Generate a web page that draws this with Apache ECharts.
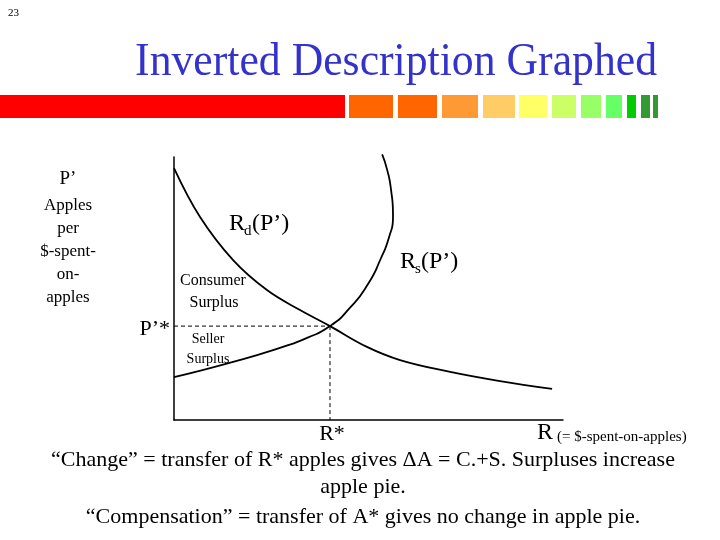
<!DOCTYPE html>
<html>
<head>
<meta charset="utf-8">
<script src="https://cdn.jsdelivr.net/npm/echarts@6/dist/echarts.min.js"></script>
<style>
  html, body { margin: 0; padding: 0; background: #fff; }
  #chart { width: 720px; height: 540px; }
</style>
</head>
<body>
<div id="chart"></div>
<script>
// demand curve Rd(P') : R values and P' values
var demandR = [0, 6.7, 15.2, 23.9, 32.4, 40.1, 49.6, 58.1, 71.0, 83.8, 97.2];
var demandP = [95.8, 77.2, 60.8, 49.4, 41.8, 35.7, 27.8, 22.8, 18.3, 14.8, 11.8];

// supply curve Rs(P') (bends backwards at the top)
var supplyR = [0, 15.2, 28.0, 34.2, 40.1, 45.2, 49.8, 53.2, 55.3, 56.3, 55.8, 54.8, 53.5];
var supplyP = [16.3, 22.1, 27.8, 31.2, 35.7, 42.6, 51.5, 61.5, 69.6, 77.2, 87.5, 95.1, 101];

// equilibrium
var eqR = 40.1;
var eqP = 35.7;

// colour strip under the title
var stripColors = ["#FF0000", "#FF6600", "#FF6600", "#FF9933", "#FFCC66", "#FFFF66",
  "#CCFF66", "#99FF66", "#66FF66", "#00CC00", "#339933", "#339933"];
var stripX = [0, 349, 398, 442, 483, 519, 552, 581, 606, 627, 641, 653];
var stripW = [345, 44, 39, 36, 32, 28, 24, 20, 16, 9, 9, 5];

var leftLabel = ["Apples", "per", "$-spent-", "on-", "apples"];
var bottomLines = [
  "\u201cChange\u201d = transfer of R* apples gives \u0394A = C.+S. Surpluses increase",
  "apple pie.",
  "\u201cCompensation\u201d = transfer of A* gives no change in apple pie."
];

var serif = "'Liberation Serif', 'Times New Roman', serif";

function zip(a, b) {
  return a.map(function (v, i) { return [v, b[i]]; });
}

function txt(x, y, text, size, align, color) {
  return {
    type: "text",
    x: x,
    y: y,
    style: {
      text: text,
      fontFamily: serif,
      fontSize: size,
      fill: color || "#000",
      align: align || "left",
      verticalAlign: "middle"
    }
  };
}

var graphics = [];
graphics.push(txt(8, 13, "23", 11, "left"));
var title = txt(657, 63, "Inverted Description Graphed", 47, "right", "#3333CC");
title.scaleX = 0.93;
graphics.push(title);
stripColors.forEach(function (c, i) {
  graphics.push({
    type: "rect",
    shape: { x: stripX[i], y: 95, width: stripW[i], height: 23 },
    style: { fill: c }
  });
});
graphics.push(txt(68, 179, "P\u2019", 19, "center"));
leftLabel.forEach(function (t, i) {
  graphics.push(txt(68, 206 + i * 22.8, t, 17, "center"));
});
graphics.push(txt(170, 329, "P\u2019*", 22, "right"));

// curve labels with subscripts
graphics.push(txt(229, 224, "R", 24, "left"));
graphics.push(txt(244, 231, "d", 15, "left"));
graphics.push(txt(252, 224, "(P\u2019)", 24, "left"));
graphics.push(txt(400, 262, "R", 24, "left"));
graphics.push(txt(415, 269, "s", 15, "left"));
graphics.push(txt(421, 262, "(P\u2019)", 24, "left"));

graphics.push(txt(213, 281, "Consumer", 16, "center"));
graphics.push(txt(214, 303, "Surplus", 16, "center"));
graphics.push(txt(208, 339, "Seller", 14, "center"));
graphics.push(txt(208, 359, "Surplus", 14, "center"));

graphics.push(txt(332, 434, "R*", 22, "center"));
graphics.push(txt(537, 433, "R", 24, "left"));
graphics.push(txt(557, 437, "(= $-spent-on-apples)", 15, "left"));

graphics.push(txt(363, 460, bottomLines[0], 22, "center"));
graphics.push(txt(363, 487, bottomLines[1], 22, "center"));
graphics.push(txt(363, 517, bottomLines[2], 22, "center"));

var chart = echarts.init(document.getElementById("chart"));
var axisCommon = {
  type: "value",
  min: 0,
  max: 100,
  axisLine: { show: true, onZero: false, lineStyle: { color: "#000", width: 1.5 } },
  axisTick: { show: false },
  axisLabel: { show: false },
  splitLine: { show: false }
};

chart.setOption({
  animation: false,
  backgroundColor: "#fff",
  grid: { left: 174, right: 157, top: 157, bottom: 120 },
  xAxis: axisCommon,
  yAxis: axisCommon,
  series: [
    {
      type: "line",
      data: zip(demandR, demandP),
      smooth: 0.4,
      symbol: "none",
      lineStyle: { color: "#000", width: 1.8 }
    },
    {
      type: "line",
      data: zip(supplyR, supplyP),
      smooth: 0.6,
      symbol: "none",
      clip: false,
      lineStyle: { color: "#000", width: 1.8 }
    },
    {
      type: "line",
      data: [[0, eqP], [eqR, eqP]],
      symbol: "none",
      lineStyle: { color: "#000", width: 1, type: [4, 3] }
    },
    {
      type: "line",
      data: [[eqR, eqP], [eqR, 0]],
      symbol: "none",
      lineStyle: { color: "#000", width: 1, type: [4, 3] }
    }
  ],
  graphic: graphics
});
</script>
</body>
</html>
